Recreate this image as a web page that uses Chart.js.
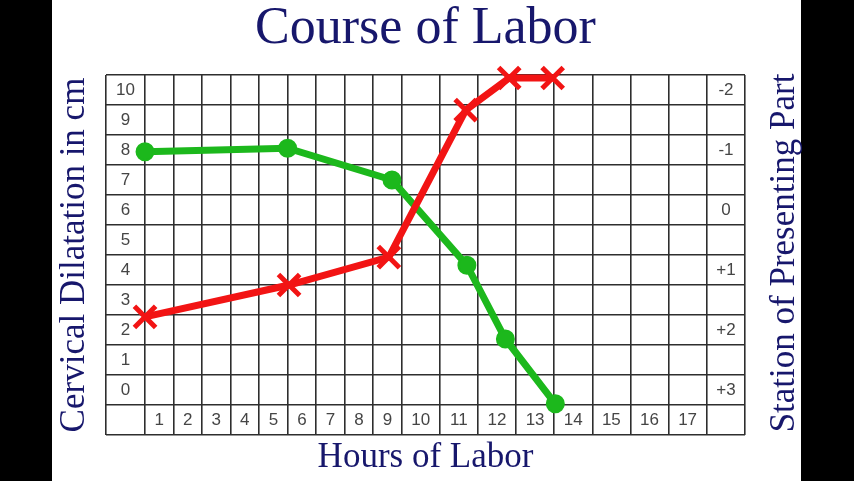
<!DOCTYPE html>
<html>
<head>
<meta charset="utf-8">
<script src="https://cdn.jsdelivr.net/npm/chart.js@4.4.1/dist/chart.umd.min.js"></script>
<style>
  html, body { margin: 0; padding: 0; background: #000; }
  #stage { position: relative; width: 854px; height: 481px; overflow: hidden; }
  #panel { position: absolute; left: 52px; top: 0; width: 749px; height: 481px; background: #fff; }
  #labor { position: absolute; left: 0; top: 0; }
</style>
</head>
<body>
<div id="stage">
  <div id="panel"></div>
  <canvas id="labor" width="854" height="481"></canvas>
</div>
<script>
const TITLE = 'Course of Labor';
const X_TITLE = 'Hours of Labor';
const LEFT_TITLE = 'Cervical Dilatation in cm';
const RIGHT_TITLE = 'Station of Presenting Part';

const HOUR_LABELS = ['1','2','3','4','5','6','7','8','9','10','11','12','13','14','15','16','17'];
const CM_TICKS = [0,1,2,3,4,5,6,7,8,9,10];
const STATION_TICKS = [-2,-1,0,1,2,3];

// red X line: cervical dilatation (cm)
const DILATION_HOURS = [0, 5.05, 8.55, 10.68, 11.82, 12.96];
const DILATION_CM    = [2.44, 3.5, 4.43, 9.33, 10.4, 10.4];

// green dot line: station of presenting part
const STATION_HOURS  = [0, 5.0, 8.66, 10.71, 11.72, 13.03];
const STATION_VALUES = [-0.97, -1.03, -0.5, 0.92, 2.15, 3.23];

const NAVY = '#17176c';
const GRID = '#2e2e2e';
const TICK = '#454545';
const RED = '#f21414';
const GREEN = '#1cb81c';
const SERIF = "'Liberation Serif', 'Times New Roman', serif";
const SANS = "'Liberation Sans', Arial, sans-serif";

/* ── grid columns: label column, 9 narrow hour columns, 8 wide ones, label column ── */
const COL_WIDTHS = [39].concat(Array(9).fill(28.5), Array(8).fill(38.1), [38.3]);
const COL_TOTAL = COL_WIDTHS.reduce((a, b) => a + b, 0);

const LinearScale = Chart.LinearScale || Chart.registry.getScale('linear');
class ColumnScale extends LinearScale {
  static id = 'columns';
  getPixelForValue(value) {
    if (value === null || value === undefined || isNaN(value)) return NaN;
    const v = value - this.min;
    const i = Math.max(0, Math.min(COL_WIDTHS.length - 1, Math.floor(v)));
    let acc = 0;
    for (let j = 0; j < i; j++) acc += COL_WIDTHS[j];
    acc += (v - i) * COL_WIDTHS[i];
    return this.left + this.width * acc / COL_TOTAL;
  }
  getValueForPixel(pixel) {
    let pos = (pixel - this.left) / this.width * COL_TOTAL;
    for (let i = 0; i < COL_WIDTHS.length; i++) {
      if (pos <= COL_WIDTHS[i] || i === COL_WIDTHS.length - 1) return this.min + i + pos / COL_WIDTHS[i];
      pos -= COL_WIDTHS[i];
    }
  }
}
Chart.register(ColumnScale);

// chart.js puts right-hand axis titles top-to-bottom; this one reads upwards
const rightTitle = {
  id: 'rightTitle',
  afterDraw(chart) {
    const { ctx, chartArea } = chart;
    ctx.save();
    ctx.translate(chartArea.right + 40, (chartArea.top + chartArea.bottom) / 2 - 2);
    ctx.rotate(-Math.PI / 2);
    ctx.font = '35px ' + SERIF;
    ctx.fillStyle = NAVY;
    ctx.textAlign = 'center';
    ctx.textBaseline = 'middle';
    ctx.fillText(RIGHT_TITLE, 0, 0);
    ctx.restore();
  }
};

const range = (a, b) => Array.from({ length: b - a + 1 }, (_, i) => a + i);
const setTicks = vals => axis => { axis.ticks = vals.map(value => ({ value })); };

new Chart(document.getElementById('labor'), {
  type: 'line',
  data: {
    datasets: [
      {
        label: 'Dilatation',
        data: DILATION_HOURS.map((h, i) => ({ x: h, y: DILATION_CM[i] })),
        xAxisID: 'x', yAxisID: 'y',
        borderColor: RED, borderWidth: 7, tension: 0,
        pointStyle: 'crossRot', pointRadius: 15, pointBorderWidth: 5,
        pointBorderColor: RED, pointBackgroundColor: RED,
        clip: false,
      },
      {
        label: 'Station',
        data: STATION_HOURS.map((h, i) => ({ x: h, y: STATION_VALUES[i] })),
        xAxisID: 'x', yAxisID: 'yr',
        borderColor: GREEN, borderWidth: 7, tension: 0,
        pointStyle: 'circle', pointRadius: 8.5, pointBorderWidth: 2,
        pointBorderColor: GREEN, pointBackgroundColor: GREEN,
        clip: false,
      },
    ],
  },
  options: {
    responsive: false,
    animation: false,
    devicePixelRatio: 1,
    layout: { padding: { left: 52, right: 109, top: 0, bottom: 0 } },
    plugins: {
      legend: { display: false },
      tooltip: { enabled: false },
      title: {
        display: true, text: TITLE, color: NAVY, fullSize: false,
        font: { family: SERIF, size: 52, weight: 'normal', lineHeight: 1 },
        padding: { top: 3.5, bottom: 19.5 },
      },
    },
    scales: {
      xl: {
        type: 'columns', position: 'bottom', weight: 0, min: -1, max: 18,
        afterBuildTicks: setTicks(HOUR_LABELS.map((_, i) => i + 0.5)),
        grid: { display: false, drawTicks: false }, border: { display: false },
        ticks: {
          mirror: true, padding: 4.3, autoSkip: false, maxRotation: 0,
          color: TICK, font: { family: SANS, size: 17 },
          callback: (v, i) => HOUR_LABELS[i],
        },
      },
      x: {
        type: 'columns', position: 'bottom', weight: 1, min: -1, max: 18,
        afterBuildTicks: setTicks(range(-1, 18)),
        grid: { color: GRID, lineWidth: 1.6, drawTicks: false },
        border: { display: false },
        ticks: { display: false },
        title: {
          display: true, text: X_TITLE, color: NAVY,
          font: { family: SERIF, size: 35, weight: 'normal', lineHeight: 0.8 },
          padding: { top: 0, bottom: 9.4 },
        },
      },
      yl: {
        type: 'linear', position: 'left', weight: 0, min: -1.5, max: 10.5,
        afterBuildTicks: setTicks(CM_TICKS),
        grid: { display: false, drawTicks: false }, border: { display: false },
        ticks: {
          mirror: true, crossAlign: 'center', padding: 10,
          color: TICK, font: { family: SANS, size: 17 },
          callback: v => String(v),
        },
      },
      y: {
        type: 'linear', position: 'left', weight: 1, min: -1.5, max: 10.5,
        afterBuildTicks: setTicks(range(0, 12).map(k => k - 1.5)),
        grid: { color: GRID, lineWidth: 1.6, drawTicks: false },
        border: { display: false },
        ticks: { display: false },
        title: {
          display: true, text: LEFT_TITLE, color: NAVY,
          font: { family: SERIF, size: 35, weight: 'normal', lineHeight: 0.6 },
          padding: { top: 12.5, bottom: 0.5 },
        },
      },
      yr: {
        type: 'linear', position: 'right', reverse: true, min: -2.25, max: 3.75,
        afterBuildTicks: setTicks(STATION_TICKS),
        grid: { display: false, drawTicks: false }, border: { display: false },
        ticks: {
          mirror: true, crossAlign: 'center', padding: -9.3,
          color: TICK, font: { family: SANS, size: 17 },
          callback: v => (v > 0 ? '+' + v : String(v)),
        },
      },
    },
  },
  plugins: [rightTitle],
});
</script>
</body>
</html>
